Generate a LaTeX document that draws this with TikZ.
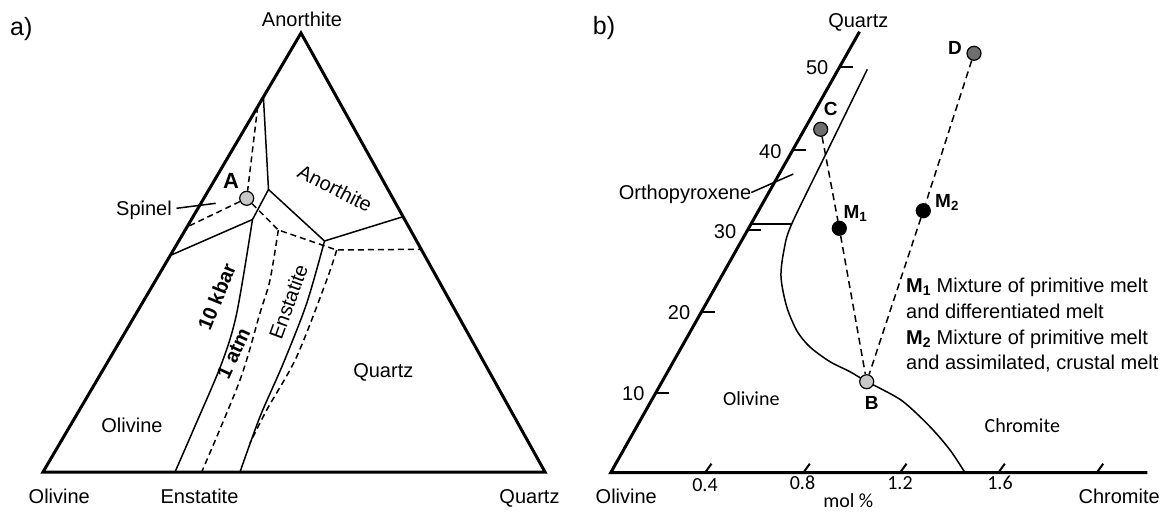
\documentclass[tikz,border=0pt]{standalone}
\usepackage{fontspec}
\setmainfont{Liberation Sans}
\newfontfamily\calib{Carlito}
\definecolor{lightg}{HTML}{C8C8C8}
\definecolor{darkg}{HTML}{6E6E6E}
\begin{document}
\begin{tikzpicture}[x=1pt,y=-1pt,
  lab/.style={inner sep=0pt,font=\fontsize{20}{24}\selectfont,text height=14.3pt,text depth=0pt},
  clab/.style={inner sep=0pt,font=\calib\fontsize{20}{24}\selectfont,text height=12.9pt,text depth=0pt},
  blab/.style={inner sep=0pt,font=\bfseries\fontsize{19}{23}\selectfont,text height=13.6pt,text depth=0pt},
  ttl/.style={inner sep=0pt,font=\fontsize{25}{30}\selectfont,anchor=base west},
  frame/.style={line width=3pt,line join=miter},
  bnd/.style={line width=1.5pt},
  dsh/.style={line width=1.5pt,dash pattern=on 6pt off 4pt},
  dshb/.style={line width=1.5pt,dash pattern=on 7pt off 4.5pt},
  tk/.style={line width=2pt},
  mdot/.style={circle,draw,line width=1.2pt,minimum size=14pt,inner sep=0pt}]
\useasboundingbox (0,0) rectangle (1175,512);

% ---------------- panel a ----------------
\coordinate (L) at (43,472);
\coordinate (R) at (545,472);
\coordinate (T) at (301,33);
\draw[frame] (L) -- (R) -- (T) -- cycle;

\coordinate (P1) at (263.4,97);
\coordinate (J1) at (268.5,189.5);
\coordinate (J2) at (324.5,241);
\coordinate (P2) at (403,216.7);
\coordinate (J3) at (252.5,219.5);
\coordinate (P3) at (170.2,255.5);
\draw[bnd] (P1) -- (J1) -- (J2) -- (P2);
\draw[bnd] (J1) -- (J3) -- (P3);
\draw[bnd] plot[smooth] coordinates {(J3) (236.7,313.3) (221.7,363.3) (193.3,430) (175,472)};
\draw[bnd] plot[smooth] coordinates {(J2) (306.7,303.3) (283.3,363.3) (260,416.7) (240,472)};

\node[mdot,fill=lightg] (A) at (246.7,198.3) {};
\coordinate (Q1) at (257.7,106.7);
\coordinate (Q2) at (188,226.5);
\coordinate (D1) at (278.3,230);
\coordinate (D2) at (336.7,250);
\coordinate (Q3) at (421.2,249.3);
\draw[dsh] (Q1) -- (A);
\draw[dsh] (A) -- (Q2);
\draw[dsh] (A) -- (D1) -- (D2) -- (Q3);
\draw[dsh] plot[smooth] coordinates {(D1) (270,280) (260,313) (240,380) (201.7,472)};
\draw[dsh] plot[smooth] coordinates {(D2) (326.7,280) (296.7,356.7) (266.7,410) (250,443)};

\node[ttl] (ta) at (10,35.5) {a)};
\node[lab] (an) at (302,19) {Anorthite};
\node[lab] (ol) at (59.3,496.5) {Olivine};
\node[lab] (en) at (199.5,496) {Enstatite};
\node[lab] (qz) at (529.5,496) {Quartz};
\node[lab] (sp) at (144,208.3) {Spinel};
\coordinate (spl) at (215.7,203.3);
\draw[bnd] ([xshift=4.5pt]sp.east) -- (spl);
\node[blab,font=\bfseries\fontsize{22}{26}\selectfont,text height=15.8pt] (lA) at (231,180.8) {A};
\node[lab,rotate=-27] (anr) at (335,188.3) {Anorthite};
\node[blab,font=\bfseries\fontsize{20}{24}\selectfont,text height=14.3pt,rotate=68] (kb) at (216.7,296.7) {10 kbar};
\node[blab,font=\bfseries\fontsize{20}{24}\selectfont,text height=14.3pt,rotate=65] (at) at (233.3,353.3) {1 atm};
\node[lab,rotate=70] (enr) at (288.3,301.7) {Enstatite};
\node[lab] (qzi) at (383.3,370) {Quartz};
\node[lab] (oli) at (132,425) {Olivine};

% ---------------- panel b ----------------
\coordinate (O) at (610.7,472.7);
\coordinate (QT) at (859.5,31.7);
\coordinate (E) at (1147.3,472.7);
\draw[frame] (QT) -- (O) -- (E);

\foreach \x/\y/\t in {655.8/392.7/10, 701.5/311.7/20, 747.6/230/30, 792.8/150/40, 839.7/66.7/50}{
  \draw[tk] (\x,\y) -- ++(13,0);
  \node[lab] (n\t) at (\x-22.5,\y+1) {\t};
}
\foreach \x in {705,803.3,900,998.3,1096.7}{
  \draw[tk] (\x,472.7) -- ++(6.5,-9);
}
\node[clab] (b04) at (705,485) {0.4};
\node[clab] (b08) at (802.5,483.5) {0.8};
\node[clab] (b12) at (900,483.5) {1.2};
\node[clab] (b16) at (1000,483.5) {1.6};

\draw[bnd] plot[smooth] coordinates {(867.3,69.3) (829.5,146.6) (791.7,224) (784,250) (781,277) (786.7,306.7) (797,331) (810,347) (830,361.7) (850,371.7) (866.7,381.7) (880,388.3) (903.3,401.7) (930,426.7) (950,450) (965,472.7)};
\coordinate (H1) at (751,224);
\coordinate (H2) at (791.7,224);
\draw[bnd] (H1) -- (H2);

\node[lab] (orth) at (685,192.5) {Orthopyroxene};
\coordinate (ortl) at (793.3,174);
\draw[bnd] (orth.east) -- (ortl);

\node[mdot,fill=darkg] (C) at (820.7,129.3) {};
\node[mdot,fill=darkg] (D) at (974,53.3) {};
\node[mdot,fill=black] (M1) at (839.3,228.3) {};
\node[mdot,fill=black] (M2) at (923.3,210.7) {};
\node[mdot,fill=lightg] (B) at (866.7,381.7) {};
\draw[dshb] (C) -- (M1) -- (B);
\draw[dshb] (D) -- (M2) -- (B);

\node[blab] (lC) at (830.7,109) {C};
\node[blab] (lD) at (955,47.3) {D};
\node[blab] (lB) at (871.7,403) {B};
\node[blab,anchor=base west] (lM1) at (843.3,218.3) {M\textsubscript{1}};
\node[blab,anchor=base west] (lM2) at (935,207.3) {M\textsubscript{2}};

\node[lab,anchor=base west] (g1) at (906,292.7) {\textbf{M\textsubscript{1}} Mixture of primitive melt};
\node[lab,anchor=base west] (g2) at (906,318.3) {and differentiated melt};
\node[lab,anchor=base west] (g3) at (906,344) {\textbf{M\textsubscript{2}} Mixture of primitive melt};
\node[lab,anchor=base west] (g4) at (906,369.5) {and assimilated, crustal melt};

\node[ttl] (tb) at (592.7,34.5) {b)};
\node[lab] (bq) at (858.3,20) {Quartz};
\node[lab] (bol) at (626.3,496.3) {Olivine};
\node[lab] (bch) at (1119.2,496) {Chromite};
\node[clab] (mol) at (848.3,501) {mol \%};
\node[clab] (ich) at (1022.3,425.8) {Chromite};
\node[clab] (iol) at (751.3,399.5) {Olivine};
\end{tikzpicture}
\end{document}
